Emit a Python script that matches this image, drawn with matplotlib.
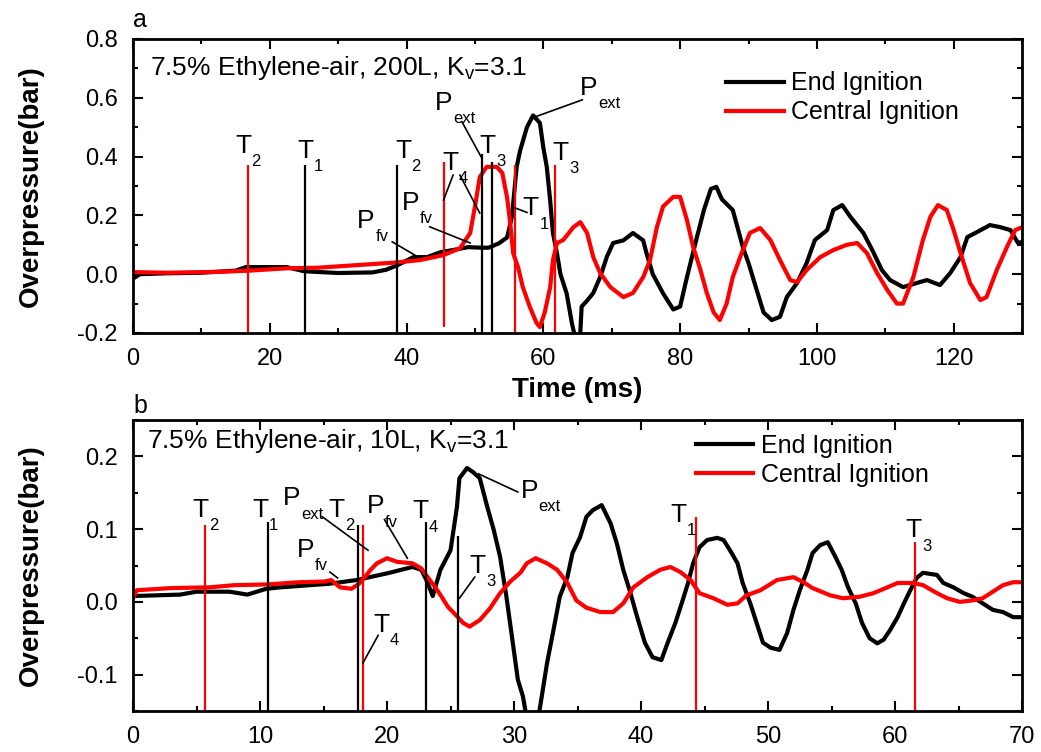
import matplotlib
matplotlib.use('Agg')
import matplotlib.pyplot as plt
from matplotlib.ticker import MultipleLocator

plt.rcParams['font.family'] = ['Liberation Sans', 'DejaVu Sans']
plt.rcParams['mathtext.fontset'] = 'custom'
plt.rcParams['mathtext.rm'] = 'Liberation Sans'
plt.rcParams['mathtext.it'] = 'Liberation Sans'

# ---- panel a : 200 L vessel ----
a_end_t = [0, 1, 5, 10, 15, 16.5, 22.5, 25, 30, 35, 37, 38.6, 41, 43, 45, 47, 49, 51, 52,
           53.5, 54.7, 55.4, 56.1, 56.6, 57.6, 58.5, 59.5, 60, 60.5, 61, 61.4, 62, 62.5,
           63.4, 64.2, 64.8, 65.4, 65.6, 66.4, 67.3, 68.3, 69.3, 70.2, 71.7, 73.1, 74.6,
           75.1, 76, 77.5, 79, 80, 81, 82.5, 83.5, 84.5, 85.3, 86.1, 87.7, 89.2, 90, 91.2,
           92.2, 93.4, 94.6, 95.6, 97.1, 98.5, 99.7, 101.5, 102.4, 103.7, 104.9, 106.8,
           108.1, 109.5, 110.7, 112.6, 114.6, 116.1, 118, 119.5, 121, 122, 123.4, 125.3,
           126.8, 128.3, 129.4, 130]
a_end_p = [-0.015, 0.0, 0.003, 0.005, 0.012, 0.024, 0.024, 0.01, 0.004, 0.006, 0.015, 0.03,
           0.058, 0.058, 0.075, 0.083, 0.092, 0.09, 0.09, 0.105, 0.125, 0.195, 0.365, 0.42,
           0.50, 0.54, 0.514, 0.43, 0.365, 0.25, 0.14, 0.07, 0.0, -0.065, -0.17, -0.23, -0.2,
           -0.11, -0.09, -0.064, -0.01, 0.06, 0.106, 0.115, 0.14, 0.115, 0.07, 0.0, -0.065,
           -0.12, -0.11, -0.01, 0.13, 0.22, 0.29, 0.297, 0.255, 0.218, 0.09, 0.038, -0.054,
           -0.13, -0.156, -0.145, -0.078, -0.03, 0.038, 0.116, 0.15, 0.218, 0.235, 0.195,
           0.14, 0.082, 0.014, -0.02, -0.044, -0.03, -0.02, -0.037, 0.004, 0.058, 0.126,
           0.143, 0.167, 0.16, 0.15, 0.106, 0.11]

a_cen_t = [0, 5, 12.7, 17, 22.5, 27, 32.2, 38.6, 42, 45.4, 47.8, 49.3, 50, 50.7, 51.7, 53.2,
           54, 54.7, 55.1, 55.6, 56.3, 57, 58, 59, 59.5, 60.2, 61, 61.4, 62, 62.9, 64.4,
           65.4, 66.4, 67.3, 68.3, 69.8, 71.7, 73.1, 74.6, 75.6, 76.6, 77.5, 79, 80, 81,
           81.9, 82.9, 83.9, 84.9, 85.8, 86.8, 87.7, 89, 90.2, 91.7, 93.2, 94.6, 96.1, 97.1,
           98.5, 100.5, 102.4, 104.4, 105.9, 107.3, 108.8, 110.3, 111.7, 112.6, 114.1,
           115.5, 116.6, 117.7, 119, 120, 121, 122.4, 123.9, 124.8, 126.3, 127.8, 129, 130]
a_cen_p = [0.007, 0.005, 0.008, 0.012, 0.02, 0.022, 0.03, 0.04, 0.048, 0.065, 0.088, 0.14,
           0.23, 0.33, 0.365, 0.365, 0.344, 0.26, 0.184, 0.07, 0.024, -0.044, -0.11, -0.166,
           -0.18, -0.13, -0.044, 0.048, 0.106, 0.116, 0.16, 0.177, 0.14, 0.058, 0.004,
           -0.044, -0.078, -0.064, -0.01, 0.048, 0.16, 0.23, 0.263, 0.263, 0.184, 0.093,
           0.02, -0.064, -0.13, -0.156, -0.1, -0.01, 0.072, 0.14, 0.157, 0.116, 0.048,
           -0.02, -0.027, 0.014, 0.058, 0.082, 0.1, 0.106, 0.072, 0.004, -0.054, -0.1, -0.1,
           -0.01, 0.116, 0.195, 0.235, 0.218, 0.15, 0.072, -0.03, -0.088, -0.078, 0.014,
           0.093, 0.15, 0.16]

# time markers: (time, bottom, top, colour)
a_marks = [(16.8, -0.2, 0.371, 'red'), (25.2, -0.2, 0.37, 'black'), (38.6, -0.2, 0.37, 'black'),
           (45.4, -0.18, 0.38, 'red'), (51.0, -0.2, 0.41, 'black'), (52.5, -0.2, 0.38, 'black'),
           (55.9, -0.2, 0.37, 'red'), (61.7, -0.2, 0.37, 'red')]
# labels: (main, sub, time, value)
a_labels = [('T', '2', 14.9, 0.412), ('T', '1', 24.0, 0.395), ('T', '2', 38.3, 0.395),
            ('T', '4', 45.2, 0.354), ('P', 'ext', 44.2, 0.558), ('T', '3', 50.7, 0.412),
            ('P', 'fv', 32.8, 0.157), ('P', 'fv', 39.3, 0.218), ('P', 'ext', 65.4, 0.61),
            ('T', '3', 61.3, 0.388), ('T', '1', 57.0, 0.2)]
a_arrows = [((46.8, 0.337), (45.4, 0.252)), ((47.8, 0.337), (50.7, 0.208)),
            ((48.1, 0.518), (50.9, 0.399)), ((37.9, 0.11), (41.2, 0.065)),
            ((43.4, 0.161), (49.3, 0.106)), ((65.7, 0.593), (58.8, 0.535)),
            ((57.6, 0.21), (55.9, 0.225))]

# ---- panel b : 10 L vessel ----
b_end_t = [0, 3.7, 5, 7.6, 9, 10.5, 11.6, 15.5, 17.6, 20.2, 22.0, 22.7, 23.1, 23.6, 24.2,
           25.0, 25.5, 25.7, 26.3, 26.8, 27.3, 27.9, 28.4, 28.9, 29.4, 29.9, 30.3, 30.7,
           31.0, 31.5, 32.0, 32.6, 33.1, 33.6, 34.2, 34.6, 35.2, 35.7, 36.2, 36.9, 37.6,
           38.1, 38.6, 39.1, 39.7, 40.3, 40.9, 41.6, 42.1, 42.7, 43.2, 43.7, 44.1, 44.6,
           45.2, 46.0, 46.5, 47.0, 47.6, 48.0, 48.6, 49.1, 49.6, 50.2, 50.9, 51.5, 52.0,
           52.5, 53.1, 53.5, 54.1, 54.7, 55.3, 55.8, 56.3, 56.9, 57.4, 58.0, 58.6, 59.1,
           59.6, 60.2, 60.7, 61.2, 61.7, 62.2, 63.3, 63.8, 64.6, 65.4, 66.1, 66.9, 67.7,
           68.5, 69.3, 70]
b_end_p = [0.008, 0.01, 0.014, 0.014, 0.01, 0.018, 0.02, 0.025, 0.03, 0.04, 0.048, 0.044,
           0.03, 0.008, 0.044, 0.071, 0.13, 0.17, 0.184, 0.178, 0.17, 0.13, 0.099, 0.062,
           0.007, -0.056, -0.107, -0.13, -0.16, -0.17, -0.15, -0.084, -0.039, 0.007, 0.034,
           0.067, 0.089, 0.117, 0.126, 0.133, 0.108, 0.08, 0.044, 0.016, -0.021, -0.056,
           -0.076, -0.08, -0.056, -0.029, -0.002, 0.026, 0.053, 0.075, 0.085, 0.088, 0.085,
           0.071, 0.053, 0.026, -0.002, -0.029, -0.056, -0.063, -0.066, -0.043, -0.011,
           0.016, 0.044, 0.067, 0.078, 0.082, 0.062, 0.044, 0.02, -0.002, -0.029, -0.05,
           -0.057, -0.052, -0.039, -0.021, -0.002, 0.016, 0.033, 0.04, 0.037, 0.026, 0.02,
           0.012, 0.007, -0.002, -0.011, -0.014, -0.021, -0.021]

b_cen_t = [0, 0.3, 3, 6, 8, 10.6, 13, 15.1, 15.6, 16.3, 17.2, 17.8, 18.3, 18.7, 19.2, 20,
           20.8, 22.0, 22.7, 23.2, 23.8, 24.3, 24.8, 25.3, 26.0, 26.5, 27.3, 28.1, 28.9,
           29.7, 30.5, 31.0, 31.7, 32.6, 33.4, 34.2, 34.9, 35.7, 36.8, 37.8, 38.6, 39.4,
           40.5, 41.5, 42.3, 43.1, 43.9, 44.6, 45.7, 46.8, 47.6, 48.3, 49.4, 50.7, 52.0,
           52.8, 53.5, 54.9, 55.9, 57.2, 58.3, 59.4, 60.2, 61.4, 62.2, 63.3, 64.1, 65.1,
           66.1, 66.9, 67.7, 68.5, 69.3, 70]
b_cen_p = [0.005, 0.016, 0.019, 0.02, 0.023, 0.024, 0.027, 0.028, 0.03, 0.02, 0.018, 0.025,
           0.035, 0.044, 0.053, 0.06, 0.055, 0.053, 0.046, 0.034, 0.02, 0.007, -0.007,
           -0.016, -0.029, -0.034, -0.025, -0.009, 0.012, 0.028, 0.04, 0.053, 0.06, 0.053,
           0.044, 0.026, 0.002, -0.008, -0.014, -0.014, -0.002, 0.02, 0.034, 0.044, 0.048,
           0.041, 0.03, 0.012, 0.005, -0.004, -0.002, 0.009, 0.016, 0.03, 0.034, 0.027,
           0.019, 0.009, 0.005, 0.007, 0.012, 0.02, 0.026, 0.026, 0.023, 0.012, 0.005, 0.0,
           0.002, 0.005, 0.014, 0.023, 0.027, 0.027]

b_marks = [(5.7, -0.15, 0.106, 'red'), (10.6, -0.15, 0.11, 'black'), (17.7, -0.15, 0.106, 'black'),
           (18.1, -0.15, 0.106, 'red'), (23.1, -0.15, 0.11, 'black'), (25.6, -0.15, 0.09, 'black'),
           (44.3, -0.15, 0.117, 'red'), (61.6, -0.15, 0.082, 'red')]
b_labels = [('T', '2', 4.7, 0.117), ('T', '1', 9.4, 0.117), ('P', 'ext', 11.8, 0.133),
            ('T', '2', 15.4, 0.117), ('P', 'fv', 18.4, 0.122), ('T', '4', 22.0, 0.115),
            ('P', 'fv', 12.9, 0.062), ('T', '4', 18.9, -0.041), ('T', '3', 26.5, 0.04),
            ('P', 'ext', 30.5, 0.143), ('T', '1', 42.3, 0.11), ('T', '3', 60.8, 0.089)]
b_arrows = [((14.9, 0.117), (18.5, 0.071)), ((19.8, 0.113), (21.6, 0.06)),
            ((15.5, 0.041), (16.1, 0.033)), ((19.3, -0.046), (18.1, -0.084)),
            ((26.9, 0.034), (25.7, 0.005)), ((30.3, 0.151), (27.2, 0.176))]


def mark(ax, x, y, main, sub):
    ax.text(x, y, main, fontsize=19, ha='left', va='baseline')
    dx = 12 if main == 'T' else 13
    ax.annotate(sub, (x, y), xytext=(dx, -1), textcoords='offset points',
                fontsize=12, ha='left', va='top')


def panel(ax, end_t, end_p, cen_t, cen_p, marks, labels, arrows, note):
    ax.plot(end_t, end_p, color='black', lw=3, label='End Ignition')
    ax.plot(cen_t, cen_p, color='red', lw=3, label='Central Ignition')
    for t, lo, hi, c in marks:
        ax.vlines(t, lo, hi, colors=c, lw=1.6)
    for main, sub, x, y in labels:
        mark(ax, x, y, main, sub)
    for p0, p1 in arrows:
        ax.plot([p0[0], p1[0]], [p0[1], p1[1]], color='black', lw=1.2)
    ax.text(0.019, 0.0, note, transform=ax.transAxes, fontsize=19)
    for s in ax.spines.values():
        s.set_linewidth(2)
    ax.tick_params(which='both', direction='in', top=True, right=True, width=1.5,
                   labelsize=17, pad=11)
    ax.tick_params(which='major', length=7)
    ax.tick_params(which='minor', length=3.5)
    ax.set_ylabel('Overpressure(bar)', fontsize=20, fontweight='bold')
    ax.yaxis.set_label_coords(-0.10, 0.5)


fig = plt.figure(figsize=(10.41, 7.52), dpi=100)
ax1 = fig.add_axes([0.1278, 0.5572, 0.854, 0.391])
ax2 = fig.add_axes([0.1278, 0.0545, 0.854, 0.387])

panel(ax1, a_end_t, a_end_p, a_cen_t, a_cen_p, a_marks, a_labels, a_arrows, '')
ax1.texts[-1].remove()
ax1.text(0.019, 0.878, r'7.5% Ethylene-air, 200L, K$_\mathregular{v}$=3.1',
         transform=ax1.transAxes, fontsize=19)
ax1.set_xlim(0, 130)
ax1.set_ylim(-0.2, 0.8)
ax1.xaxis.set_major_locator(MultipleLocator(20))
ax1.xaxis.set_minor_locator(MultipleLocator(10))
ax1.yaxis.set_major_locator(MultipleLocator(0.2))
ax1.yaxis.set_minor_locator(MultipleLocator(0.1))
ax1.set_yticks([-0.2, 0.0, 0.2, 0.4, 0.6, 0.8])
ax1.set_yticklabels(['-0.2', '0.0', '0.2', '0.4', '0.6', '0.8'])
ax1.set_xlabel('Time (ms)', fontsize=20, fontweight='bold')
ax1.xaxis.set_label_coords(0.5, -0.15)
ax1.legend(frameon=False, loc='upper left', bbox_to_anchor=(0.667, 0.89),
           borderpad=0, borderaxespad=0, handlelength=2.3, handletextpad=0.3,
           labelspacing=0.2, fontsize=18)

panel(ax2, b_end_t, b_end_p, b_cen_t, b_cen_p, b_marks, b_labels, b_arrows, '')
ax2.texts[-1].remove()
ax2.text(0.016, 0.904, r'7.5% Ethylene-air, 10L, K$_\mathregular{v}$=3.1',
         transform=ax2.transAxes, fontsize=19)
ax2.set_xlim(0, 70)
ax2.set_ylim(-0.15, 0.25)
ax2.xaxis.set_major_locator(MultipleLocator(10))
ax2.xaxis.set_minor_locator(MultipleLocator(5))
ax2.set_yticks([-0.1, 0.0, 0.1, 0.2])
ax2.set_yticklabels(['-0.1', '0.0', '0.1', '0.2'])
ax2.yaxis.set_minor_locator(MultipleLocator(0.05))
ax2.legend(frameon=False, loc='upper left', bbox_to_anchor=(0.633, 0.952),
           borderpad=0, borderaxespad=0, handlelength=2.3, handletextpad=0.3,
           labelspacing=0.2, fontsize=18)

fig.text(133 / 1041, 1 - 27 / 752, 'a', fontsize=18, va='baseline')
fig.text(133 / 1041, 1 - 413 / 752, 'b', fontsize=18, va='baseline')

fig.savefig('out.png', dpi=100)
